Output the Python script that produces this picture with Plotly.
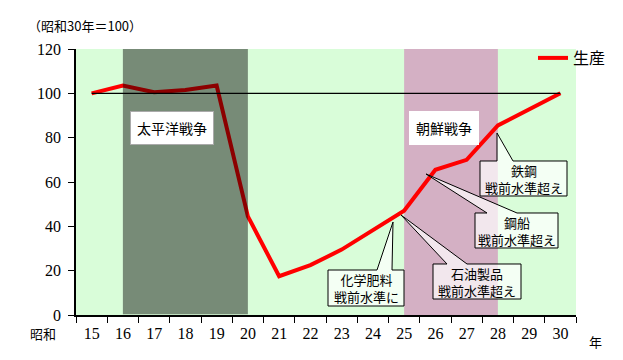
import plotly.graph_objects as go

# ---- data ----
years = ["15", "16", "17", "18", "19", "20", "21", "22", "23", "24",
         "25", "26", "27", "28", "29", "30"]
production = [100, 103.5, 100.5, 101.5, 103.5, 44.5, 17.5, 22.5, 29.5, 38.5,
              47, 65.5, 70, 85.5, 93, 100]
baseline_years = ["15", "30"]
baseline_values = [100, 100]
y_ticks = [0, 20, 40, 60, 80, 100, 120]
war_names = ["太平洋戦争", "朝鮮戦争"]
war_start = ["16", "25"]
war_end = ["20", "28"]
callout_texts = ["化学肥料<br>戦前水準に", "石油製品<br>戦前水準超え",
                 "鋼船<br>戦前水準超え", "鉄鋼<br>戦前水準超え"]

# ---- layout geometry ----
# the page body has an 8px margin, so the figure is drawn 8px in from the corner
OFF = 8
W, H = 623 - OFF, 360 - OFF
PL, PT, PR, PB = 76, 49, 576, 315          # plot area in page pixels
L, T = PL - OFF, PT - OFF
R, B = W - (PR - OFF), H - (PB - OFF)
PW, PH = PR - PL, PB - PT

def px(x):
    return (x - PL) / PW

def py(y):
    return (PB - y) / PH

JP = "Noto Sans CJK JP"
SERIF = "Liberation Serif"

fig = go.Figure()
fig.add_trace(go.Scatter(x=years, y=production, mode="lines", name="生産",
                         line=dict(color="#FF0000", width=4)))
fig.add_trace(go.Scatter(x=baseline_years, y=baseline_values, mode="lines",
                         line=dict(color="black", width=1.3), showlegend=False,
                         hoverinfo="skip"))

shapes = []
# Pacific war band (dark translucent overlay above the line)
shapes.append(dict(type="rect", xref="x", yref="y",
                   x0=years.index(war_start[0]), x1=years.index(war_end[0]),
                   y0=0.3, y1=120, fillcolor="black", opacity=0.45,
                   line=dict(width=0), layer="above"))
# Korean war band (below the line)
shapes.append(dict(type="rect", xref="x", yref="y",
                   x0=years.index(war_start[1]), x1=years.index(war_end[1]),
                   y0=0, y1=120, fillcolor="#D4B0C4",
                   line=dict(width=0), layer="below"))

# callouts: box (x0,y0,x1,y1), wedge base (b0,b1) on top edge, tip (tx,ty)
callout_geo = [
    (328, 270, 404, 306, 377, 392, 393, 222),
    (433, 264, 521, 299, 447, 467, 401, 215),
    (475, 213, 558, 248, 487, 517, 426, 174),
    (480, 161, 567, 196, 497, 513, 497, 133),
]
annotations = []
for txt, (x0, y0, x1, y1, b0, b1, tx, ty) in zip(callout_texts, callout_geo):
    pts = [(x0, y0), (b0, y0), (tx, ty), (b1, y0), (x1, y0), (x1, y1), (x0, y1)]
    path = "M " + " L ".join(f"{px(a):.5f},{py(b):.5f}" for a, b in pts) + " Z"
    shapes.append(dict(type="path", xref="paper", yref="paper", path=path,
                       fillcolor="rgba(255,255,255,0.7)",
                       line=dict(color="black", width=1), layer="above"))
    annotations.append(dict(xref="paper", yref="paper", x=px((x0 + x1) / 2),
                            y=py((y0 + y1) / 2), text=txt, showarrow=False,
                            font=dict(family=JP, size=13, color="black"),
                            xanchor="center", yanchor="middle"))

# war labels
war_label_geo = [(171.5, 128, "#AAAAAA"), (443.5, 127.5, "white")]
for name, (cx, cy, bc) in zip(war_names, war_label_geo):
    annotations.append(dict(xref="paper", yref="paper", x=px(cx), y=py(cy),
                            text=name, showarrow=False, bgcolor="white",
                            bordercolor=bc, borderwidth=1, borderpad=6,
                            font=dict(family=JP, size=14, color="black"),
                            xanchor="center", yanchor="middle"))

annotations.append(dict(xref="paper", yref="paper", x=px(26), y=py(25),
                        text="（昭和30年＝100）", showarrow=False,
                        font=dict(family=JP, size=13, color="black"),
                        xanchor="left", yanchor="middle"))
annotations.append(dict(xref="paper", yref="paper", x=px(43), y=py(333),
                        text="昭和", showarrow=False,
                        font=dict(family=JP, size=13, color="black"),
                        xanchor="center", yanchor="middle"))
annotations.append(dict(xref="paper", yref="paper", x=px(595), y=py(341),
                        text="年", showarrow=False,
                        font=dict(family=JP, size=13, color="black"),
                        xanchor="center", yanchor="middle"))

fig.update_layout(
    width=W, height=H,
    margin=dict(l=L, r=R, t=T, b=B, pad=0, autoexpand=False),
    paper_bgcolor="white",
    plot_bgcolor="#D9FDD9",
    shapes=shapes,
    annotations=annotations,
    legend=dict(x=px(533), y=py(41), xanchor="left", yanchor="top",
                bgcolor="rgba(0,0,0,0)", font=dict(family=JP, size=16, color="black")),
    xaxis=dict(type="category", categoryorder="array", categoryarray=years,
               range=[-0.5, len(years) - 0.5], tickangle=0,
               tickson="boundaries", ticks="outside", ticklen=6, tickwidth=1.2,
               tickcolor="black", showline=True, linecolor="black", linewidth=1.5,
               showgrid=False, zeroline=False, ticklabelstandoff=3,
               tickfont=dict(family=SERIF, size=16, color="black")),
    yaxis=dict(range=[0, 120], tickvals=y_ticks, ticks="outside", ticklen=6,
               tickwidth=1.2, tickcolor="black", showline=True, linecolor="black",
               linewidth=1.5, showgrid=False, zeroline=False, ticklabelstandoff=4,
               tickfont=dict(family=SERIF, size=16, color="black")),
)

fig.write_html("out.html")
